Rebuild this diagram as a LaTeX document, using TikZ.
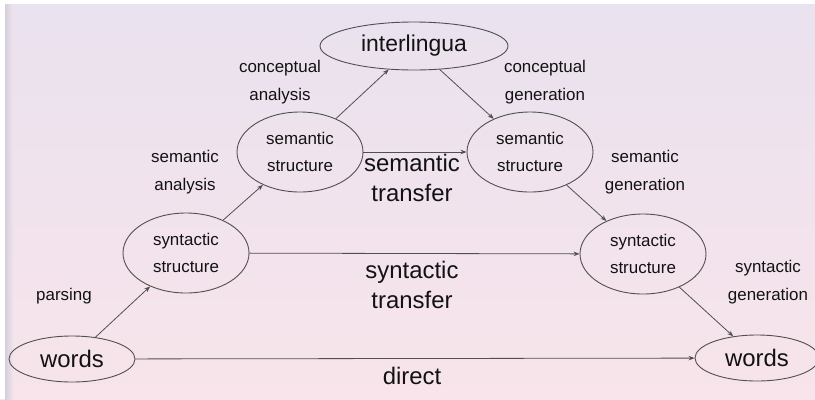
\documentclass[tikz,border=0pt]{standalone}
\usepackage{fontspec}
\setmainfont{Liberation Sans}
\usetikzlibrary{shapes.geometric,arrows.meta}
\definecolor{bgtop}{RGB}{233,226,239}
\definecolor{bgbot}{RGB}{248,228,234}
\definecolor{bgedge}{RGB}{214,208,220}
\definecolor{ink}{RGB}{80,80,80}
\definecolor{txt}{RGB}{18,18,18}
\begin{document}
\begin{tikzpicture}[x=1bp,y=-1bp,
  ov/.style={ellipse,draw=ink,line width=0.9bp,inner sep=0pt,minimum width=126bp,minimum height=80bp,
    font=\fontsize{17}{27}\selectfont,align=center,text=txt},
  wordsov/.style={ov,minimum height=46bp,font=\fontsize{24}{28}\selectfont},
  lab/.style={font=\fontsize{17}{28}\selectfont,align=center,text=txt,inner sep=0pt},
  biglab/.style={font=\fontsize{24}{30}\selectfont,align=center,text=txt,inner sep=0pt},
  arr/.style={draw=ink,line width=0.8bp,-{Stealth[length=6bp,width=4.5bp]}}
]
\useasboundingbox (0,0) rectangle (815,399);
\shade[top color=bgtop,bottom color=bgbot] (0,0) rectangle (815,399);
\fill[white] (0,0) rectangle (815,4);
\fill[white] (0,0) rectangle (5,399);
\shade[left color=bgedge,right color=bgtop!60!bgbot] (5,4) rectangle (13,399);

\node[ov,minimum width=188bp,minimum height=48bp,font=\fontsize{23}{28}\selectfont] (il) at (414,46) {interlingua};
\node[ov] (sml) at (300,152) {semantic\\structure};
\node[ov] (smr) at (530,152) {semantic\\structure};
\node[ov] (sxl) at (186,253) {syntactic\\structure};
\node[ov] (sxr) at (643,254) {syntactic\\structure};
\node[wordsov] (wl) at (72,359) {words};
\node[wordsov,minimum width=124bp] (wr) at (757,358) {words};

\draw[arr] (wl) -- (sxl);
\draw[arr] (sxl) -- (sml);
\draw[arr] (sml) -- (il);
\draw[arr] (il) -- (smr);
\draw[arr] (smr) -- (sxr);
\draw[arr] (sxr) -- (wr);
\draw[arr] (sml) -- (smr);
\draw[arr] (sxl) -- (sxr);
\draw[arr] (wl) -- (wr);

\node[lab] (ca) at (280,82) {conceptual\\analysis};
\node[lab] (cg) at (545,82) {conceptual\\generation};
\node[lab] (sa) at (185,172) {semantic\\analysis};
\node[lab] (sg) at (645,172) {semantic\\generation};
\node[biglab] (st) at (412,178) {semantic\\transfer};
\node[biglab] (xt) at (412,285) {syntactic\\transfer};
\node[lab] (pa) at (64,296) {parsing};
\node[lab] (xg) at (768,282) {syntactic\\generation};
\node[biglab] (di) at (412,376) {direct};
\end{tikzpicture}
\end{document}
